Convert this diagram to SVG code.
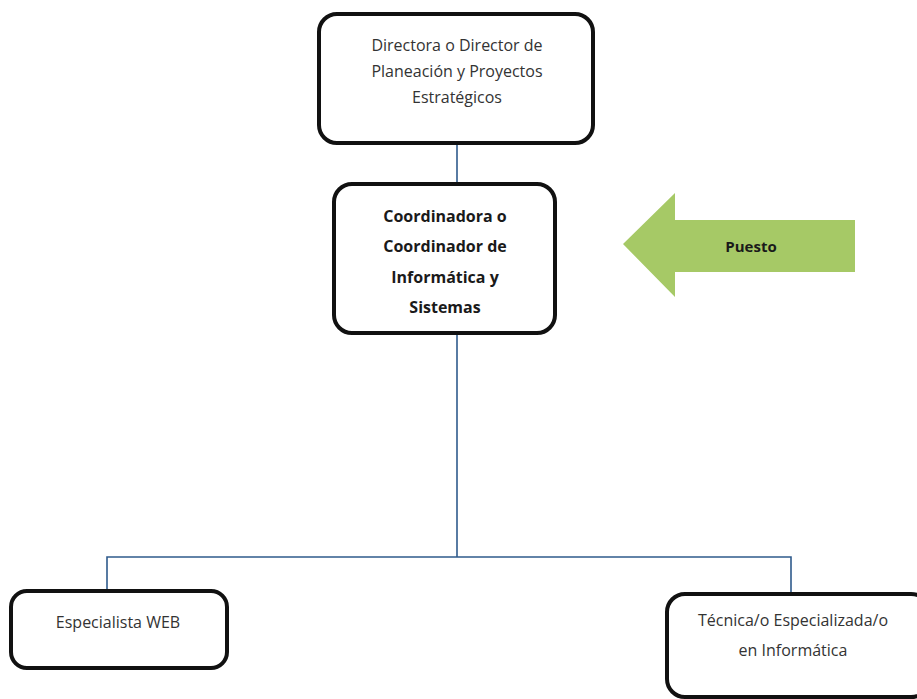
<svg xmlns="http://www.w3.org/2000/svg" width="917" height="699" viewBox="0 0 917 699">
<style>
.box{fill:#fff;stroke:#111;stroke-width:4}
.t{font-family:"Open Sans","Liberation Sans",sans-serif;fill:#333;text-anchor:middle;font-size:16px}
.tb{font-family:"Open Sans","Liberation Sans",sans-serif;fill:#1a1a1a;text-anchor:middle;font-size:16px;font-weight:bold}
.conn{fill:none;stroke:#2f5b8c;stroke-width:1.6}
</style>
<rect width="917" height="699" fill="#fff"/>
<g id="connectors">
<line class="conn" x1="457" y1="143" x2="457" y2="184"/>
<polyline class="conn" points="457,333 457,557"/>
<polyline class="conn" points="107,591 107,557 791,557 791,594"/>
</g>
<g id="n-director">
<rect class="box" x="319" y="14" width="274" height="129" rx="18"/>
<text class="t" x="457" y="51">Directora o Director de</text>
<text class="t" x="457" y="77">Planeación y Proyectos</text>
<text class="t" x="457" y="103">Estratégicos</text>
</g>
<g id="n-coordinador">
<rect class="box" x="334" y="184" width="221" height="149" rx="18"/>
<text class="tb" x="445" y="222">Coordinadora o</text>
<text class="tb" x="445" y="252">Coordinador de</text>
<text class="tb" x="445" y="283">Informática y</text>
<text class="tb" x="445" y="313">Sistemas</text>
</g>
<g id="n-puesto">
<polygon points="623,244 675,193 675,220 855,220 855,272 675,272 675,297" fill="#a6c966"/>
<text class="tb" x="751" y="252" style="font-size:15px">Puesto</text>
</g>
<g id="n-web">
<rect class="box" x="11" y="591" width="216" height="77" rx="16"/>
<text class="t" x="118" y="628">Especialista WEB</text>
</g>
<g id="n-tecnica">
<rect class="box" x="667" y="594" width="262" height="103" rx="18"/>
<text class="t" x="793" y="626">Técnica/o Especializada/o</text>
<text class="t" x="793" y="656">en Informática</text>
</g>
</svg>
